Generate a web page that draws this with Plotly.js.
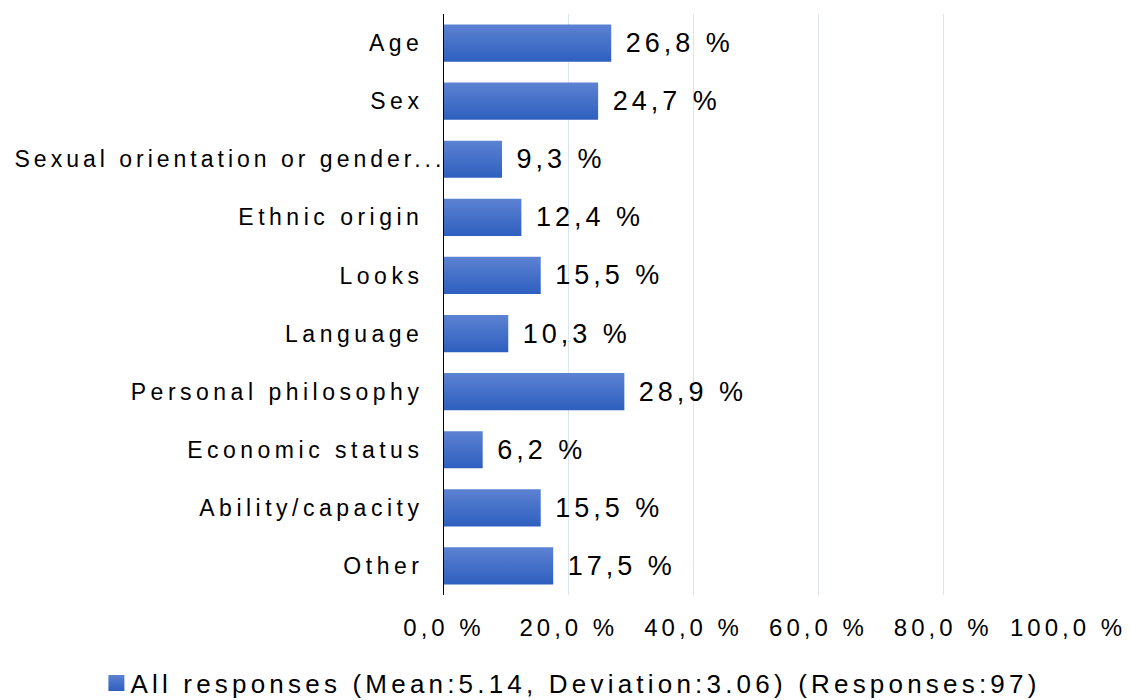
<!DOCTYPE html>
<html>
<head>
<meta charset="utf-8">
<script src="https://cdn.plot.ly/plotly-3.0.1.min.js"></script>
<style>
  body { margin: 0; background: #fff; }
  #myDiv { width: 1130px; height: 700px; }
  .ytick text { letter-spacing: 4.5px; }
  .xtick text { letter-spacing: 4px; }
  .bartext { letter-spacing: 4px; }
  .legendtext { letter-spacing: 4.2px; }
  .bars path, .legendpoints path { fill: url(#barGrad) !important; }
  .legendpoints path { d: path("M14,8H-2V-8H14Z"); }
</style>
</head>
<body>
<svg width="0" height="0" style="position:absolute">
  <defs>
    <linearGradient id="barGrad" x1="0" y1="0" x2="0" y2="1">
      <stop offset="0" stop-color="#5c82d2"/>
      <stop offset="1" stop-color="#2e5fbf"/>
    </linearGradient>
  </defs>
</svg>
<div id="myDiv"></div>
<script>
var categories = ['Age', 'Sex', 'Sexual orientation or gender...', 'Ethnic origin', 'Looks',
                  'Language', 'Personal philosophy', 'Economic status', 'Ability/capacity', 'Other'];
var values = [26.8, 24.7, 9.3, 12.4, 15.5, 10.3, 28.9, 6.2, 15.5, 17.5];
var tickVals = [0, 20, 40, 60, 80, 100];
var tickText = ['0,0 %', '20,0 %', '40,0 %', '60,0 %', '80,0 %', '100,0 %'];

var labels = values.map(function (v) { return '\u00a0' + v.toFixed(1).replace('.', ',') + ' %'; });

var trace = {
  type: 'bar',
  orientation: 'h',
  x: values,
  y: categories,
  text: labels,
  textposition: 'outside',
  cliponaxis: false,
  textfont: {family: 'Liberation Sans, Arial, sans-serif', size: 27, color: '#000'},
  marker: {color: '#4470c8', line: {width: 0}},
  name: 'All responses (Mean:5.14, Deviation:3.06) (Responses:97)',
  showlegend: true
};

var layout = {
  width: 1130,
  height: 700,
  margin: {l: 444, r: 62, t: 14, b: 105, autoexpand: false},
  paper_bgcolor: '#fff',
  plot_bgcolor: '#fff',
  bargap: 0.36,
  font: {family: 'Liberation Sans, Arial, sans-serif', color: '#000'},
  xaxis: {
    range: [0, 100],
    tickvals: tickVals,
    ticktext: tickText,
    tickfont: {size: 24},
    showgrid: true,
    gridcolor: '#dbe5f1',
    gridwidth: 1,
    zeroline: false,
    showline: false,
    ticklabelstandoff: 16
  },
  yaxis: {
    autorange: 'reversed',
    tickfont: {size: 23},
    showline: true,
    linecolor: '#000',
    linewidth: 1,
    showgrid: false,
    ticks: '',
    ticklabelstandoff: 15
  },
  legend: {
    orientation: 'h',
    xref: 'container',
    yref: 'container',
    x: 0.08,
    xanchor: 'left',
    y: 0.024,
    yanchor: 'middle',
    font: {size: 26}
  }
};

Plotly.newPlot('myDiv', [trace], layout, {displayModeBar: false}).then(function (gd) {
  // the long truncated label sits flush against the axis in the original
  gd.querySelectorAll('.ytick text').forEach(function (t) {
    if (t.textContent.length > 25) {
      t.setAttribute('x', parseFloat(t.getAttribute('x') || 0) + 22);
      t.style.letterSpacing = '4px';
    }
  });
});
</script>
</body>
</html>
